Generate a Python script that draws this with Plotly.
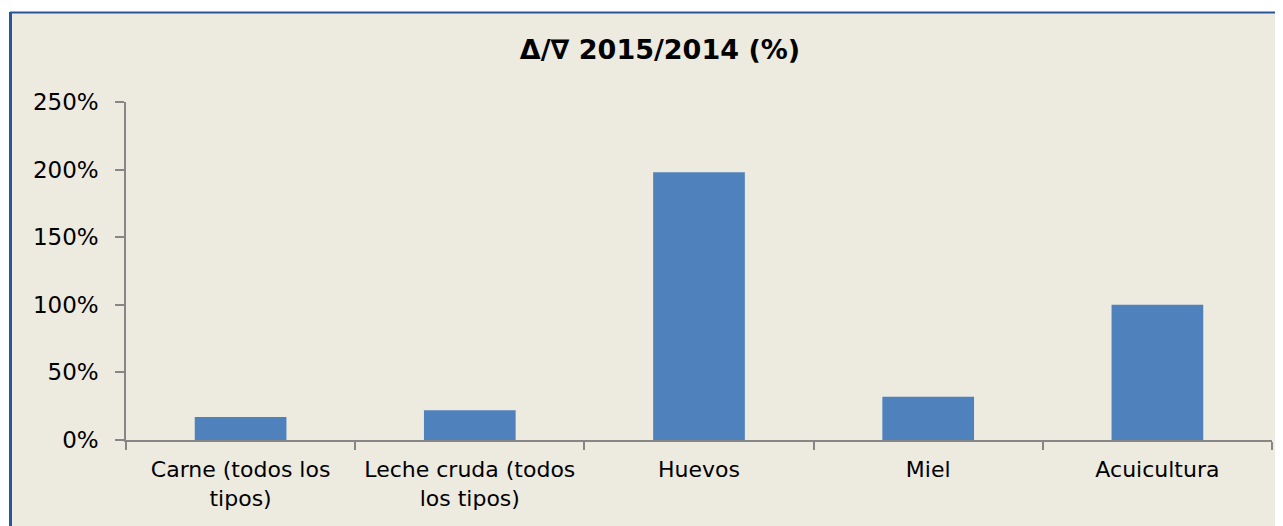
import plotly.graph_objects as go

categories = ["Carne (todos los<br>tipos)", "Leche cruda (todos<br>los tipos)", "Huevos", "Miel", "Acuicultura"]
values = [0.17, 0.22, 1.98, 0.32, 1.00]
title_text = "Δ/∇ 2015/2014 (%)"

# page body has an 8px margin; the figure is sized/positioned to compensate
OFF = 8
W, H = 1283 - OFF, 526 - OFF
L, R, T, B = 126 - OFF, 1272 - OFF, 102 - OFF, 440 - OFF
pw, ph = R - L, B - T

def px(x):
    return (x - OFF - L) / pw

def py(y):
    return (B - (y - OFF)) / ph

bg = "#EDEAE0"
axis_col = "#868686"
border = "#2A5597"
font_fam = "DejaVu Sans"

fig = go.Figure(go.Bar(x=categories, y=values, marker=dict(color="#4F81BD", line=dict(width=0))))

shapes = [
    dict(type="rect", xref="paper", yref="paper", x0=px(10), x1=px(1300), y0=py(540), y1=py(12),
         fillcolor=bg, line=dict(width=0), layer="below"),
    dict(type="line", xref="paper", yref="paper", x0=px(10.5), x1=px(10.5), y0=py(540), y1=py(12),
         line=dict(color=border, width=3), layer="above"),
    dict(type="line", xref="paper", yref="paper", x0=px(10), x1=px(1300), y0=py(12.5), y1=py(12.5),
         line=dict(color=border, width=2), layer="above"),
]

fig.update_layout(
    width=W, height=H,
    margin=dict(l=L, r=W - R, t=T, b=H - B, autoexpand=False),
    paper_bgcolor="white",
    plot_bgcolor="rgba(0,0,0,0)",
    shapes=shapes,
    showlegend=False,
    bargap=0.6,
    title=dict(text="<b>" + title_text + "</b>", x=(660 - OFF) / W, xref="container", xanchor="center",
               y=1 - (50 - OFF) / H, yref="container", yanchor="middle",
               font=dict(family=font_fam, size=27, color="black")),
    font=dict(family=font_fam, size=22, color="black"),
)

fig.update_xaxes(
    showline=True, linecolor=axis_col, linewidth=1.5,
    ticks="outside", ticklen=8, tickcolor=axis_col, tickwidth=1.5,
    tickson="boundaries", showgrid=False, range=[-0.5, 4.5],
    tickangle=0, ticklabelstandoff=9,
    tickfont=dict(family=font_fam, size=22, color="black"),
)
fig.update_yaxes(
    showline=True, linecolor=axis_col, linewidth=1.5,
    ticks="outside", ticklen=9, tickcolor=axis_col, tickwidth=1.5,
    showgrid=False, zeroline=False, range=[0, 2.5], dtick=0.5, tick0=0,
    tickformat=".0%", ticklabelstandoff=12,
    tickfont=dict(family=font_fam, size=23, color="black"),
)

fig.write_html("out.html")
